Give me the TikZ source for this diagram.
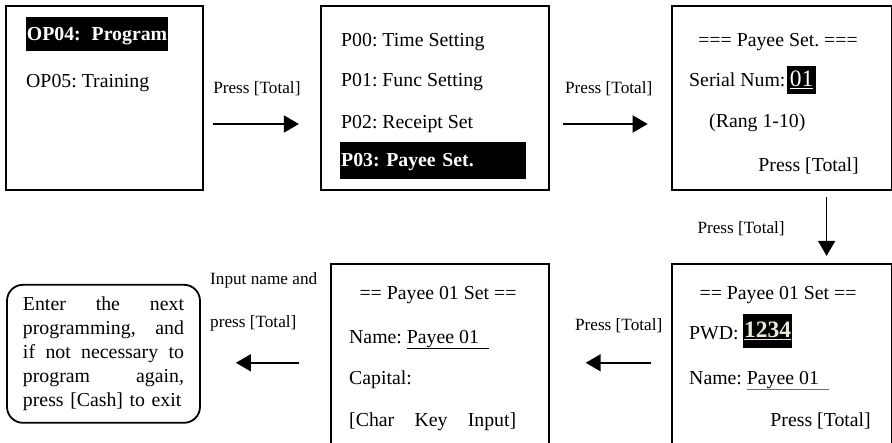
\documentclass[tikz,border=0pt]{standalone}
\usepackage{fontspec}
\setmainfont{Liberation Serif}
\usetikzlibrary{arrows.meta, positioning, calc}
\definecolor{pwdtext}{RGB}{238,232,215}
\definecolor{linegray}{RGB}{110,110,110}
\newcommand{\boxfont}{\fontsize{19.8}{24}\selectfont}
\newcommand{\lblfont}{\fontsize{17.2}{20}\selectfont}
\newcommand{\numfont}{\fontsize{23.5}{26}\selectfont}
\frenchspacing

\begin{document}
\begin{tikzpicture}[x=1pt, y=-1pt,
        screen/.style={rectangle, draw, line width=1.8pt, inner sep=0pt},
        note/.style={rectangle, rounded corners=16pt, draw, line width=1.8pt,
                     text width=161pt, align=left, font=\boxfont, inner sep=0pt},
        row/.style={anchor=west, inner sep=0pt, font=\boxfont,
                    text height=15pt, text depth=3pt},
        hilite/.style={row, fill=black, text=white, font=\boxfont\bfseries},
        lbl/.style={font=\lblfont, inner sep=0pt},
        arrow/.style={-{Triangle[length=15pt, width=17pt]}, line width=1.7pt},
    ]
        \useasboundingbox (0,0) rectangle (892,442);

        % screens
        \node[screen, minimum width=197pt, minimum height=184pt] (op) at (104.5,98) {};
        \node[screen, minimum width=228pt, minimum height=184pt, right=116pt of op] (prog) {};
        \node[screen, minimum width=220pt, minimum height=184pt, right=121pt of prog] (serial) {};
        \node[screen, minimum width=220pt, minimum height=180pt, below=72pt of serial] (pwd) {};
        \node[screen, minimum width=218pt, minimum height=180pt, left=121pt of pwd] (name) {};
        \node[note, minimum width=193pt, minimum height=138pt, left=129pt of name] (done)
            {\makebox[161pt]{Enter\hfill the\hfill next}\\
             \makebox[161pt]{programming,\hfill and}\\
             \makebox[161pt]{if\hfill not\hfill necessary\hfill to}\\
             \makebox[161pt]{program\hfill again,}\\
             press [Cash] to exit};

        % screen texts
        \node[hilite, minimum height=34pt, inner xsep=0.7pt] (op4) at (26,34) {OP04:\hspace{0.55em}Program};
        \node[row] (op5) at (26,81) {OP05: Training};

        \node[row] (p00) at (341,40) {P00: Time Setting};
        \node[row] (p01) at (341,80) {P01: Func Setting};
        \node[row] (p02) at (341,122) {P02: Receipt Set};
        \node[hilite, minimum height=37pt, text width=184pt, align=left, inner xsep=1pt] (p03) at (340,160.5) {P03: Payee Set.};

        \node[row, anchor=center] (title3) at (778,40) {=== Payee Set. ===};
        \node[row] (sn) at (689,80) {Serial Num:};
        \node[hilite, font=\numfont, text height=16pt, minimum width=29pt, minimum height=28pt] (snv) at (787,80) {\underline{01}};
        \node[row] (rang) at (709,121) {(Rang 1-10)};
        \node[row, anchor=east] (pt3) at (859,165) {Press [Total]};

        \node[row, anchor=center] (title6) at (778,293) {== Payee 01 Set ==};
        \node[row] (pwdlbl) at (689,333) {PWD:};
        \node[hilite, font=\numfont\bfseries, text height=16pt, text=pwdtext, minimum width=49pt, minimum height=34pt] (pwdv) at (743,331) {\underline{1234}};
        \node[row] (name6) at (689,378) {Name: \textcolor{linegray}{\underline{\textcolor{black}{Payee 01}\hspace{10pt}}}};
        \node[row, anchor=east] (pt6) at (871,420) {Press [Total]};

        \node[row, anchor=center] (title5) at (438,293) {== Payee 01 Set ==};
        \node[row] (name5) at (349,337) {Name: \underline{Payee 01\hspace{10pt}}};
        \node[row] (cap5) at (349,378) {Capital:};
        \node[row] (chr5) at (349,420) {\makebox[167pt]{[Char\hfill Key\hfill Input]}};

        % arrows
        \draw[arrow, shorten <=9pt, shorten >=21pt] ([yshift=-26pt]op.east)
            -- node[lbl, xshift=-5pt, yshift=35pt] {Press [Total]} ([yshift=-26pt]prog.west);
        \draw[arrow, shorten <=13pt, shorten >=23pt] ([yshift=-26pt]prog.east)
            -- node[lbl, xshift=-1.5pt, yshift=35pt] {Press [Total]} ([yshift=-26pt]serial.west);
        \draw[arrow, shorten <=6pt, shorten >=7pt] ([xshift=45pt]serial.south)
            -- node[lbl, xshift=-85.5pt, yshift=-2pt] {Press [Total]} ([xshift=45pt]pwd.north);
        \draw[arrow, shorten <=20pt, shorten >=36pt] ([yshift=-9pt]pwd.west)
            -- node[lbl, xshift=8.5pt, yshift=37pt] {Press [Total]} ([yshift=-9pt]name.east);
        \draw[arrow, shorten <=31pt, shorten >=35pt] ([yshift=-9pt]name.west) -- ([yshift=-9pt]done.east);

        \node[lbl, anchor=west] (in1) at (210,280) {Input name and};
        \node[lbl, anchor=west] (in2) at (210,323) {press [Total]};
    \end{tikzpicture}
\end{document}
